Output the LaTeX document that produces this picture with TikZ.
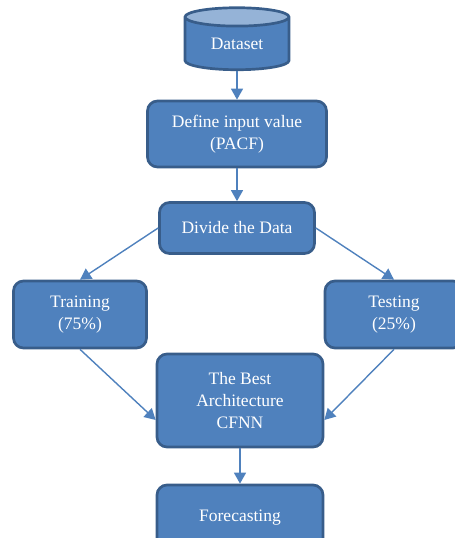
\documentclass[tikz,border=0pt]{standalone}
\usepackage{fontspec}
\setmainfont{Liberation Serif}
\usetikzlibrary{shapes.geometric, arrows.meta}
\definecolor{boxfill}{HTML}{4F81BD}
\definecolor{boxline}{HTML}{385D8A}
\definecolor{topfill}{HTML}{95B3D7}

\begin{document}
\begin{tikzpicture}[
    x=1pt, y=-1pt,
    boxtext/.style={text=white, font=\fontsize{17.5}{22}\selectfont, align=center},
    stagebox/.style={boxtext, rectangle, rounded corners=10pt, draw=boxline, line width=2.7pt, fill=boxfill, inner sep=0pt},
    dbshape/.style={boxtext, cylinder, shape border rotate=90, aspect=0.35, draw=boxline, line width=2.7pt,
        cylinder uses custom fill, cylinder body fill=boxfill, cylinder end fill=topfill,
        minimum width=104pt, minimum height=62pt, inner sep=0pt},
    flowarrow/.style={draw=boxfill, line width=1.4pt, -{Triangle[width=12pt,length=11pt]}},
]
    \useasboundingbox (0,0) rectangle (455,538);
    \clip (0,0) rectangle (455,538);

    \node[dbshape] (dataset) at (237,44) {Dataset};
    \node[stagebox, minimum width=179pt, minimum height=66pt] (define) at (237,134) {Define input value\\(PACF)};
    \node[stagebox, minimum width=155pt, minimum height=51pt] (divide) at (237,228) {Divide the Data};
    \node[stagebox, minimum width=133pt, minimum height=67pt] (training) at (80,314.5) {Training\\(75\%)};
    \node[stagebox, minimum width=138pt, minimum height=67pt] (testing) at (394,314.5) {Testing\\(25\%)};
    \node[stagebox, minimum width=166pt, minimum height=93pt] (best) at (240,400.5) {The Best\\Architecture\\CFNN};
    \node[stagebox, minimum width=166pt, minimum height=66pt] (forecast) at (240,518) {Forecasting};

    % straight down the middle
    \foreach \a/\b in {dataset/define, define/divide, best/forecast}
        \draw[flowarrow] (\a) -- (\b);
    \draw[flowarrow] (divide.west) -- (training.north);
    \draw[flowarrow] (divide.east) -- (testing.north);
    \draw[flowarrow] (training.south) -- (best.193);
    \draw[flowarrow] (testing.south) -- (best.347);

\end{tikzpicture}
\end{document}
